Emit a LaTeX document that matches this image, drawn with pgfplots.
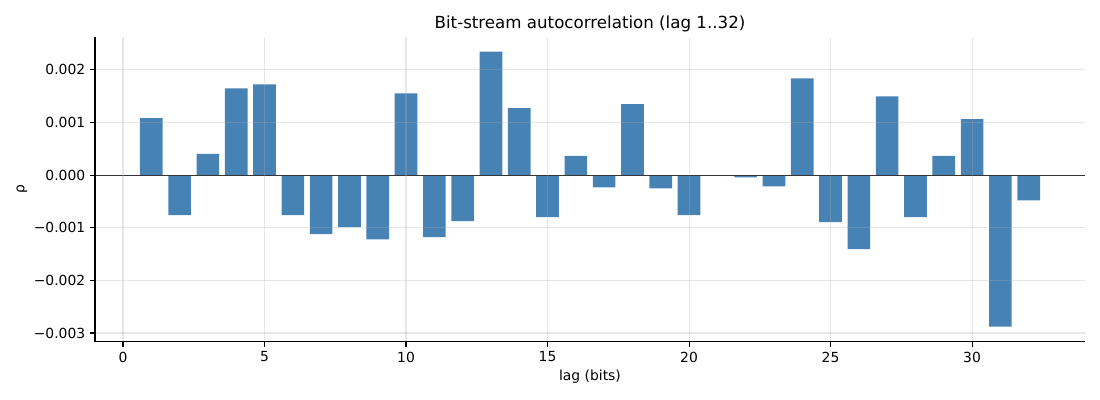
\documentclass[border=0pt]{standalone}
\usepackage{pgfplots}
\pgfplotsset{compat=1.18}
\usepackage{fontspec}
\setmainfont{DejaVu Sans}
\definecolor{steel}{RGB}{70,130,180}
\definecolor{gridgray}{RGB}{176,176,176}
\pgfplotstableread{
lag rho
1 0.001083
2 -0.000762
3 0.000403
4 0.001650
5 0.001725
6 -0.000762
7 -0.001121
8 -0.000989
9 -0.001222
10 0.001555
11 -0.001178
12 -0.000875
13 0.002349
14 0.001272
15 -0.000800
16 0.000365
17 -0.000233
18 0.001348
19 -0.000252
20 -0.000762
21 0.000000
22 -0.000044
23 -0.000214
24 0.001839
25 -0.000894
26 -0.001404
27 0.001499
28 -0.000800
29 0.000365
30 0.001064
31 -0.002878
32 -0.000479
}\datatable
\begin{document}
\begin{tikzpicture}
\begin{axis}[
  name=ax,
  scale only axis,
  width=712.8pt, height=219.6pt,
  xmin=-0.99, xmax=33.99,
  ymin=-0.00317, ymax=0.002627,
  axis lines*=left,
  axis on top,
  axis line style={black, line width=0.8pt},
  tick align=outside,
  major tick length=3.5pt,
  tick style={black, line width=0.8pt},
  xtick={0,5,10,15,20,25,30},
  xticklabels={0,5,10,15,20,25,30},
  ytick={-0.003,-0.002,-0.001,0,0.001,0.002},
  yticklabels={−0.003,−0.002,−0.001,0.000,0.001,0.002},
  scaled y ticks=false,
  ticklabel style={font=\fontsize{10}{12}\selectfont},
  grid=major,
  major grid style={line width=0.8pt, color=gridgray, opacity=0.3},
  xlabel={lag (bits)},
  ylabel={ρ},
  xlabel style={font=\fontsize{10}{12}\selectfont, at={(axis description cs:0.5,-0.1148)}, anchor=center},
  ylabel style={font=\fontsize{10}{12}\selectfont, at={(axis description cs:-0.0737,0.5)}, anchor=center, rotate=0},
  title={Bit-stream autocorrelation (lag 1..32)},
  title style={font=\fontsize{12}{14.4}\selectfont, at={(axis description cs:0.5,1.0165)}, anchor=center},
  clip=false,
]
\addplot[ybar, bar width=0.8, fill=steel, draw=none, bar shift=0pt] table[x=lag, y=rho] {\datatable};
\draw[black, line width=0.8pt] (axis cs:-0.99,0) -- (axis cs:33.99,0);
\end{axis}
\path[use as bounding box] ([shift={(-68.4pt,-41.8pt)}]ax.south west) rectangle ([shift={(10.8pt,26.6pt)}]ax.north east);
\end{tikzpicture}
\end{document}
